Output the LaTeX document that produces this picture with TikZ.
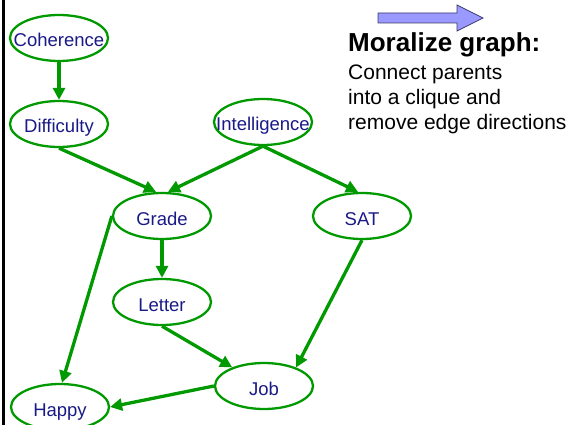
\documentclass[tikz,border=0pt]{standalone}
\usepackage{fontspec}
\setmainfont{Liberation Sans}
\usetikzlibrary{shapes.geometric,arrows.meta,calc}
\definecolor{edgegreen}{RGB}{0,153,0}
\definecolor{textnavy}{RGB}{25,25,135}
\definecolor{arrowfill}{RGB}{153,153,255}
\definecolor{arrowline}{RGB}{60,60,110}
\tikzset{
  var/.style={ellipse, draw=edgegreen, line width=2.3pt, minimum width=98pt, minimum height=46pt,
    inner sep=0pt, text height=18pt, text depth=0pt, text=textnavy, font=\fontsize{18.5}{20}\selectfont},
  dep/.style={draw=edgegreen, line width=3.3pt, -{Triangle[length=12pt,width=12pt]}, shorten >=0pt}
}
\newcommand{\vlabel}[1]{\makebox[0pt]{#1}}
\begin{document}
\begin{tikzpicture}[x=1pt,y=-1pt]
\useasboundingbox (0,0) rectangle (573,425);
\draw[black, line width=2.4pt] (3.5,0) -- (3.5,425);
% nodes
\node[var] (coh) at (59,38) {\vlabel{Coherence}};
\node[var] (dif) at (59,124) {\vlabel{Difficulty}};
\node[var] (int) at (263,122) {\vlabel{Intelligence}};
\node[var] (gra) at (162,216) {\vlabel{Grade}};
\node[var] (sat) at (362,216) {\vlabel{SAT}};
\node[var] (let) at (162,302) {\vlabel{Letter}};
\node[var] (job) at (264,386) {\vlabel{Job}};
\node[var] (hap) at (60,407) {\vlabel{Happy}};
% edges
\draw[dep] (coh.south) -- (dif.north);
\draw[dep] (dif.south) -- ($(gra.north)+(-6,0)$);
\draw[dep] (int.south) -- ($(gra.north)+(6,0)$);
\draw[dep] (int.south) -- ($(sat.north)+(-4,0)$);
\draw[dep] (gra.west) -- ($(hap.north)+(2,0)$);
\draw[dep] (gra.south) -- (let.north);
\draw[dep] (let.south) -- (job);
\draw[dep] (sat.south) -- (job.30);
\draw[dep] (job.west) -- (hap.east);
% big arrow
\draw[fill=arrowfill, draw=arrowline, line width=0.8pt, line join=miter]
  (378,13) -- (457,13) -- (457,5) -- (483,18) -- (457,31) -- (457,23) -- (378,23) -- cycle;
% text
\node[anchor=base west, inner sep=0pt, font=\fontsize{26}{30}\selectfont\bfseries] (title) at (348,52) {Moralize graph:};
\node[anchor=base west, inner sep=0pt, font=\fontsize{21}{25}\selectfont] (l1) at (348,80) {Connect parents};
\node[anchor=base west, inner sep=0pt, font=\fontsize{21}{25}\selectfont] (l2) at (348,105) {into a clique and};
\node[anchor=base west, inner sep=0pt, font=\fontsize{21}{25}\selectfont] (l3) at (348,130) {remove edge directions};
\end{tikzpicture}
\end{document}
